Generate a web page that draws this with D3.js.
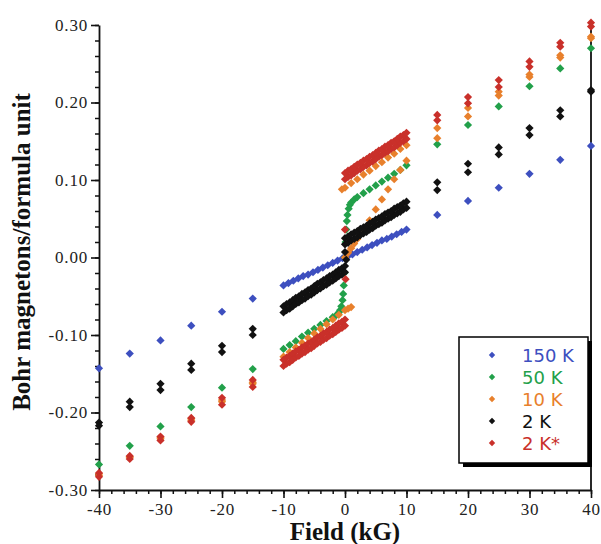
<!DOCTYPE html>
<html>
<head>
<meta charset="utf-8">
<script src="https://cdn.jsdelivr.net/npm/d3@7"></script>
<style>
  html, body { margin: 0; padding: 0; background: #fff; }
  svg { display: block; }
</style>
</head>
<body>
<svg id="chart" width="601" height="544"></svg>
<script>
// ---------------- DATA ----------------
const xTicks = [-40, -30, -20, -10, 0, 10, 20, 30, 40];
const yTicks = [-0.30, -0.20, -0.10, 0.00, 0.10, 0.20, 0.30];

const seriesNames = ["150 K", "50 K", "10 K", "2 K", "2 K*"];
const seriesColors = ["#3d4fbf", "#22a04a", "#e8802c", "#111111", "#c9302a"];

// sparse high-field points (kG)
const sparseF = [-40, -35, -30, -25, -20, -15, 15, 20, 25, 30, 35, 40];
const blueSparseV   = [-0.143, -0.124, -0.107, -0.088, -0.070, -0.053, 0.055, 0.073, 0.090, 0.108, 0.126, 0.144];
const greenSparseV  = [-0.267, -0.243, -0.218, -0.193, -0.168, -0.144, 0.146, 0.171, 0.195, 0.221, 0.244, 0.270];
const orangeSparseA = [-0.279, -0.257, -0.232, -0.208, -0.184, -0.161, 0.167, 0.193, 0.214, 0.236, 0.261, 0.285];
const orangeSparseB = [-0.281, -0.258, -0.234, -0.210, -0.186, -0.163, 0.154, 0.182, 0.209, 0.233, 0.258, 0.283];
const blackSparseA  = [-0.213, -0.186, -0.163, -0.137, -0.114, -0.092, 0.097, 0.121, 0.142, 0.167, 0.190, 0.216];
const blackSparseB  = [-0.217, -0.193, -0.171, -0.145, -0.122, -0.100, 0.087, 0.110, 0.133, 0.158, 0.182, 0.214];
const redSparseA    = [-0.278, -0.256, -0.231, -0.207, -0.181, -0.158, 0.184, 0.207, 0.229, 0.253, 0.277, 0.303];
const redSparseB    = [-0.283, -0.260, -0.236, -0.212, -0.190, -0.167, 0.177, 0.199, 0.220, 0.246, 0.272, 0.298];

// low-field sweeps
const blueDenseF = [-10, -9.2, -8.4, -7.6, -6.8, -6, -5.2, -4.4, -3.6, -2.8, -2, -1.2, -0.4, 0.4, 1.2, 2, 2.8, 3.6, 4.4, 5.2, 6, 6.8, 7.6, 8.4, 9.2, 10];
const blueDenseV = [-0.036, -0.033, -0.030, -0.027, -0.024, -0.022, -0.019, -0.016, -0.013, -0.010, -0.007, -0.004, -0.001, 0.001, 0.004, 0.007, 0.010, 0.013, 0.016, 0.019, 0.022, 0.024, 0.027, 0.030, 0.033, 0.036];

const greenDenseF = [-10, -9, -8, -7, -6, -5, -4, -3, -2, -1.5, -1, -0.8, -0.6, -0.4, -0.3, -0.2, -0.1, 0, 0.1, 0.2, 0.3, 0.4, 0.6, 0.8, 1, 1.5, 2, 3, 4, 5, 6, 7, 8, 9, 10];
const greenDenseV = [-0.118, -0.113, -0.108, -0.102, -0.097, -0.092, -0.087, -0.082, -0.077, -0.075, -0.071, -0.068, -0.063, -0.055, -0.047, -0.036, -0.020, 0.000, 0.020, 0.036, 0.047, 0.055, 0.063, 0.068, 0.071, 0.075, 0.078, 0.083, 0.088, 0.093, 0.098, 0.103, 0.108, 0.113, 0.119];

const orangeUpperF = [-0.5, 0, 1, 2, 3, 4, 5, 6, 7, 8, 9, 10];
const orangeUpperV = [0.088, 0.090, 0.096, 0.101, 0.107, 0.112, 0.118, 0.123, 0.129, 0.134, 0.140, 0.145];
const orangeLowerF = [-10, -9, -8, -7, -6, -5, -4, -3, -2, -1, 0, 0.5, 1];
const orangeLowerV = [-0.128, -0.122, -0.116, -0.110, -0.104, -0.098, -0.092, -0.086, -0.080, -0.074, -0.068, -0.066, -0.064];
const orangeVirginF = [0, 0.5, 1, 1.5, 2, 3, 4, 5, 6, 7, 8, 9, 10];
const orangeVirginV = [0.000, 0.006, 0.012, 0.018, 0.024, 0.036, 0.048, 0.062, 0.075, 0.088, 0.101, 0.113, 0.125];

const posGrid = [0, 0.5, 1, 1.5, 2, 2.5, 3, 3.5, 4, 4.5, 5, 5.5, 6, 6.5, 7, 7.5, 8, 8.5, 9, 9.5, 10];
const negGrid = [-10, -9.5, -9, -8.5, -8, -7.5, -7, -6.5, -6, -5.5, -5, -4.5, -4, -3.5, -3, -2.5, -2, -1.5, -1, -0.5, 0];

const blackUpperA = [0.017, 0.019, 0.022, 0.024, 0.026, 0.029, 0.031, 0.033, 0.036, 0.038, 0.041, 0.043, 0.045, 0.048, 0.050, 0.052, 0.055, 0.057, 0.059, 0.062, 0.064];
const blackUpperB = [0.025, 0.027, 0.030, 0.032, 0.034, 0.037, 0.039, 0.041, 0.044, 0.046, 0.049, 0.051, 0.053, 0.056, 0.058, 0.060, 0.063, 0.065, 0.067, 0.070, 0.072];
const blackLowerA = [-0.063, -0.060, -0.058, -0.055, -0.052, -0.050, -0.047, -0.045, -0.042, -0.040, -0.037, -0.034, -0.032, -0.029, -0.027, -0.024, -0.022, -0.019, -0.016, -0.014, -0.011];
const blackLowerB = [-0.071, -0.068, -0.066, -0.063, -0.060, -0.058, -0.055, -0.053, -0.050, -0.048, -0.045, -0.042, -0.040, -0.037, -0.035, -0.032, -0.030, -0.027, -0.024, -0.022, -0.019];
const blackMidF = [0, 0.2];
const blackMidV = [0.007, -0.003];

const redUpperA = [0.101, 0.104, 0.106, 0.109, 0.112, 0.114, 0.117, 0.119, 0.122, 0.124, 0.127, 0.130, 0.132, 0.135, 0.137, 0.140, 0.142, 0.145, 0.148, 0.150, 0.153];
const redUpperB = [0.109, 0.112, 0.114, 0.117, 0.120, 0.122, 0.125, 0.127, 0.130, 0.132, 0.135, 0.138, 0.140, 0.143, 0.145, 0.148, 0.150, 0.153, 0.156, 0.158, 0.161];
const redLowerA = [-0.132, -0.129, -0.127, -0.124, -0.121, -0.119, -0.116, -0.114, -0.111, -0.109, -0.106, -0.103, -0.101, -0.098, -0.096, -0.093, -0.091, -0.088, -0.085, -0.083, -0.080];
const redLowerB = [-0.140, -0.137, -0.135, -0.132, -0.129, -0.127, -0.124, -0.122, -0.119, -0.117, -0.114, -0.111, -0.109, -0.106, -0.104, -0.101, -0.099, -0.096, -0.093, -0.091, -0.088];
const redMidF = [0, 0.1];
const redMidV = [0.036, -0.028];

// ---------------- BUILD ----------------
function pts(fArr, vArr, s) { return fArr.map((f, i) => ({ f: f, v: vArr[i], s: s })); }

const points = [].concat(
  pts(sparseF, blueSparseV, 0), pts(blueDenseF, blueDenseV, 0),
  pts(sparseF, greenSparseV, 1), pts(greenDenseF, greenDenseV, 1),
  pts(sparseF, orangeSparseA, 2), pts(sparseF, orangeSparseB, 2),
  pts(orangeUpperF, orangeUpperV, 2), pts(orangeLowerF, orangeLowerV, 2), pts(orangeVirginF, orangeVirginV, 2),
  pts(sparseF, blackSparseA, 3), pts(sparseF, blackSparseB, 3),
  pts(posGrid, blackUpperA, 3), pts(posGrid, blackUpperB, 3), pts(negGrid, blackLowerA, 3), pts(negGrid, blackLowerB, 3),
  pts(blackMidF, blackMidV, 3),
  pts(sparseF, redSparseA, 4), pts(sparseF, redSparseB, 4),
  pts(posGrid, redUpperA, 4), pts(posGrid, redUpperB, 4), pts(negGrid, redLowerA, 4), pts(negGrid, redLowerB, 4),
  pts(redMidF, redMidV, 4)
);

const svg = d3.select("#chart");
const x = d3.scaleLinear().domain([-40, 40]).range([99, 591]);
const y = d3.scaleLinear().domain([-0.3, 0.3]).range([490, 25]);

const serif = "'Liberation Serif', 'Times New Roman', serif";
const diamond = "M0,-4.1L4.1,0L0,4.1L-4.1,0Z";

// minor ticks
const xMinor = d3.range(-40, 40.001, 2);
const yMinor = d3.range(-0.30, 0.3001, 0.02);
svg.append("g").attr("transform", "translate(0,490)")
  .call(d3.axisBottom(x).tickValues(xMinor).tickSize(4).tickFormat(""))
  .call(g => g.select(".domain").remove())
  .selectAll("line").attr("stroke", "#111").attr("stroke-width", 1.5);
svg.append("g").attr("transform", "translate(99,0)")
  .call(d3.axisLeft(y).tickValues(yMinor).tickSize(4).tickFormat(""))
  .call(g => g.select(".domain").remove())
  .selectAll("line").attr("stroke", "#111").attr("stroke-width", 1.5);

// major axes
const gx = svg.append("g").attr("transform", "translate(0,490)")
  .call(d3.axisBottom(x).tickValues(xTicks).tickSize(8).tickSizeOuter(0).tickPadding(5).tickFormat(d => String(d)));
const gy = svg.append("g").attr("transform", "translate(99,0)")
  .call(d3.axisLeft(y).tickValues(yTicks).tickSize(8).tickSizeOuter(0).tickPadding(3).tickFormat(d => d.toFixed(2)));
[gx, gy].forEach(g => {
  g.select(".domain").attr("stroke", "#111").attr("stroke-width", 1.8);
  g.selectAll(".tick line").attr("stroke", "#111").attr("stroke-width", 1.6);
  g.selectAll(".tick text").attr("fill", "#222").style("font-family", serif)
    .style("font-size", "17px").style("letter-spacing", "0.8px");
});

// right frame line
svg.append("line").attr("x1", x(40)).attr("x2", x(40)).attr("y1", y(0.3)).attr("y2", y(-0.3))
  .attr("stroke", "#111").attr("stroke-width", 1.8);

// points
svg.append("g").selectAll("path").data(points).join("path")
  .attr("d", diamond)
  .attr("transform", d => `translate(${x(d.f)},${y(d.v)})`)
  .attr("fill", d => seriesColors[d.s]);

// axis titles
svg.append("text").attr("x", 345).attr("y", 540).attr("text-anchor", "middle")
  .style("font-family", serif).style("font-weight", "bold").style("font-size", "25px")
  .attr("fill", "#111").text("Field (kG)");
svg.append("text").attr("transform", "translate(30,252) rotate(-90)").attr("text-anchor", "middle")
  .style("font-family", serif).style("font-weight", "bold").style("font-size", "25px")
  .attr("fill", "#111").text("Bohr magnetons/formula unit");

// legend
const lg = svg.append("g");
lg.append("rect").attr("x", 463).attr("y", 341).attr("width", 129).attr("height", 126).attr("fill", "#000");
lg.append("rect").attr("x", 459).attr("y", 337).attr("width", 129).attr("height", 126)
  .attr("fill", "#fff").attr("stroke", "#000").attr("stroke-width", 1.5);
const rowY = [355, 377, 399, 421, 443];
seriesNames.forEach((name, i) => {
  lg.append("path").attr("d", "M0,-3.2L3.2,0L0,3.2L-3.2,0Z")
    .attr("transform", `translate(492,${rowY[i]})`).attr("fill", seriesColors[i]);
  lg.append("text").attr("x", 522).attr("y", rowY[i] + 6.5)
    .style("font-family", "'DejaVu Sans', sans-serif").style("font-size", "18px")
    .attr("fill", seriesColors[i]).text(name);
});
</script>
</body>
</html>
